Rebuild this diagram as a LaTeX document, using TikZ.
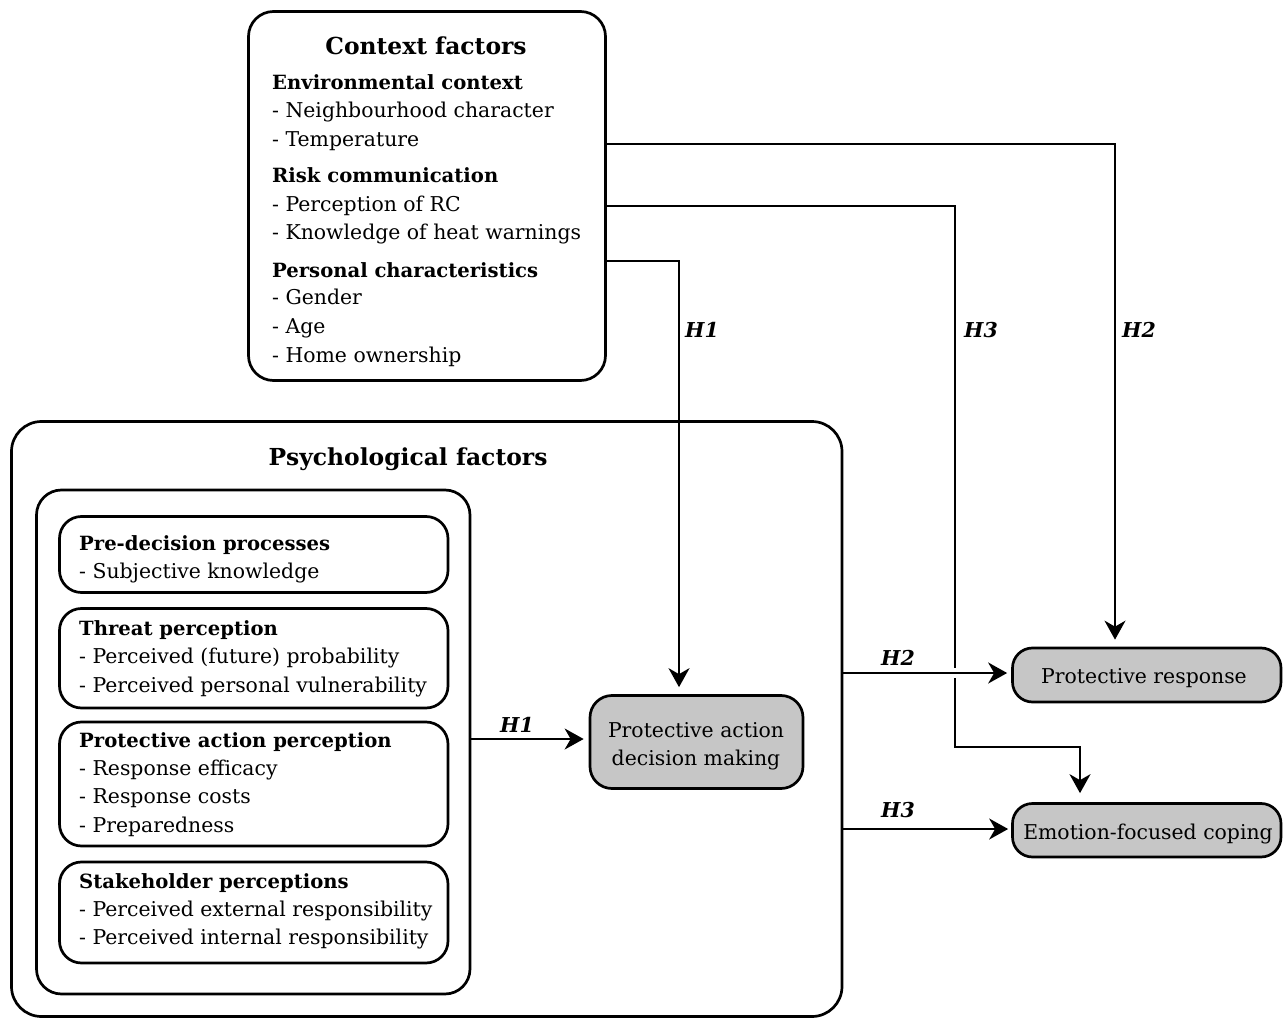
\documentclass[tikz,border=0pt]{standalone}
\usepackage{fontspec}
\setmainfont{DejaVu Serif}
\usetikzlibrary{arrows.meta}
\newcommand\myBody{\fontsize{20.4}{24}\selectfont}
\newcommand\myHead{\fontsize{19.6}{24}\selectfont\bfseries}
\newcommand\myTitle{\fontsize{23.4}{27}\selectfont\bfseries}
\newcommand\myLab{\fontsize{20.5}{24}\selectfont\bfseries\itshape}
\begin{document}
\begin{tikzpicture}[x=1pt,y=-1pt,
  frame/.style={draw, line width=2.7pt, inner sep=0pt, rounded corners=#1},
  frame/.default=25pt,
  gbox/.style={draw, line width=2.7pt, inner sep=0pt, fill=gray!45, rounded corners=#1},
  gbox/.default=22pt,
  txt/.style={anchor=base west, inner sep=0pt, font=\myBody},
  hd/.style={anchor=base west, inner sep=0pt, font=\myHead},
  ttl/.style={anchor=base, inner sep=0pt, font=\myTitle},
  ctr/.style={anchor=base, inner sep=0pt, font=\myBody},
  lab/.style={anchor=base, inner sep=0pt, font=\myLab},
  lablw/.style={anchor=base west, inner sep=0pt, font=\myLab},
  arr/.style={line width=2.1pt, -{Stealth[length=19pt,width=21pt,inset=6pt]}}
]
\useasboundingbox (0,0) rectangle (1283,1019);

% ---- boxes ----
\node[frame, minimum width=357pt, minimum height=369pt] (ctx) at (427,196) {};
\node[frame=30pt, minimum width=830.5pt, minimum height=595pt] (psy) at (426.75,719) {};
\node[frame, minimum width=433.5pt, minimum height=504pt] (inner) at (253.25,742) {};
\node[frame=22pt, minimum width=388.5pt, minimum height=76pt] (sub1) at (253.75,554.5) {};
\node[frame=22pt, minimum width=388.5pt, minimum height=99.5pt] (sub2) at (253.75,658.25) {};
\node[frame=22pt, minimum width=388.5pt, minimum height=124pt] (sub3) at (253.75,784) {};
\node[frame=22pt, minimum width=388.5pt, minimum height=101pt] (sub4) at (253.75,912.5) {};
\node[gbox, minimum width=213pt, minimum height=93pt] (padm) at (696.5,742) {};
\node[gbox=20pt, minimum width=268.5pt, minimum height=54pt] (pr) at (1146.75,675) {};
\node[gbox=20pt, minimum width=268.5pt, minimum height=53.5pt] (efc) at (1146.75,830.25) {};

% ---- context texts ----
\node[ttl] (ctxT) at (426,55) {Context factors};
\node[hd]  (c1) at (272,90)  {Environmental context};
\node[txt] (c2) at (272,118) {- Neighbourhood character};
\node[txt] (c3) at (272,147) {- Temperature};
\node[hd]  (c4) at (272,183) {Risk communication};
\node[txt] (c5) at (272,212) {- Perception of RC};
\node[txt] (c6) at (272,240) {- Knowledge of heat warnings};
\node[hd]  (c7) at (272,277) {Personal characteristics};
\node[txt] (c8) at (272,305) {- Gender};
\node[txt] (c9) at (272,333) {- Age};
\node[txt] (c10) at (272,362) {- Home ownership};

% ---- psychological texts ----
\node[ttl] (psyT) at (408,465) {Psychological factors};
\node[hd]  (p1) at (79,550) {Pre-decision processes};
\node[txt] (p2) at (79,578) {- Subjective knowledge};
\node[hd]  (p3) at (79,635) {Threat perception};
\node[txt] (p4) at (79,663) {- Perceived (future) probability};
\node[txt] (p5) at (79,692) {- Perceived personal vulnerability};
\node[hd]  (p6) at (79,747) {Protective action perception};
\node[txt] (p7) at (79,775) {- Response efficacy};
\node[txt] (p8) at (79,803) {- Response costs};
\node[txt] (p9) at (79,832) {- Preparedness};
\node[hd]  (p10) at (79,888) {Stakeholder perceptions};
\node[txt] (p11) at (79,916) {- Perceived external responsibility};
\node[txt] (p12) at (79,944) {- Perceived internal responsibility};

% ---- outcome texts ----
\node[ctr] (padm1) at (696,737) {Protective action};
\node[ctr] (padm2) at (696,765) {decision making};
\node[ctr] (prT) at (1144,683) {Protective response};
\node[ctr] (efcT) at (1148,839) {Emotion-focused coping};

% ---- connectors ----
\coordinate (h3bend) at (955,747);
\draw[arr, shorten >=7pt] (ctx.east |- 0,261) -| ([xshift=-17.5pt]padm.north);
\draw[arr, shorten >=9pt] (ctx.east |- 0,206) -| (h3bend) -| ([xshift=-66.75pt]efc.north);
\draw[arr, shorten >=7pt] (ctx.east |- 0,144) -| ([xshift=-31.75pt]pr.north);
\draw[arr, shorten >=5pt] (inner.east |- 0,739) -- (padm.west |- 0,739);
\fill[white] (952,668) rectangle (958,678);
\draw[arr, shorten >=4pt] (psy.east |- 0,673) -- (pr.west |- 0,673);
\draw[arr, shorten >=3pt] (psy.east |- 0,829) -- (efc.west |- 0,829);

% ---- labels ----
\node[lablw] (l1) at (685,337) {H1};
\node[lablw] (l3) at (964,337) {H3};
\node[lablw] (l2) at (1122,337) {H2};
\node[lab] (l1b) at (517,732) {H1};
\node[lab] (l2b) at (898,665) {H2};
\node[lab] (l3b) at (898,817) {H3};
\end{tikzpicture}
\end{document}
